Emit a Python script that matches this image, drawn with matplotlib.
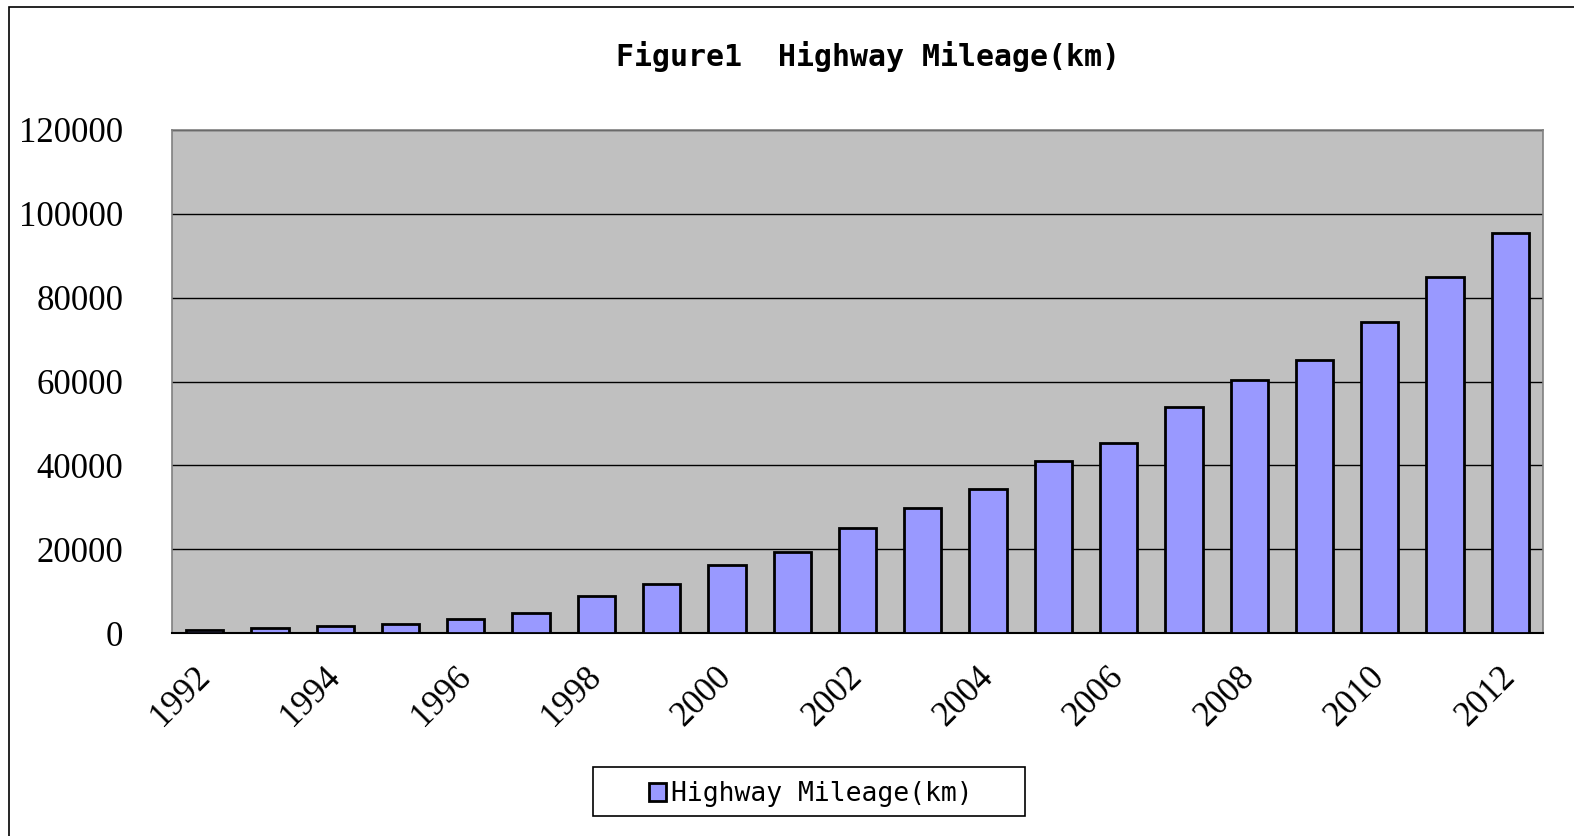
import matplotlib
matplotlib.use("Agg")
import matplotlib.pyplot as plt
from matplotlib.patches import Rectangle
import numpy as np

# Highway mileage (km)
years = [str(y) for y in range(1992, 2013)]
mileage = [600, 1145, 1603, 2141, 3422, 4771, 8733, 11605, 16314, 19437,
           25130, 29745, 34288, 41005, 45339, 53913, 60302, 65055, 74113,
           84946, 95500]
yticks = [0, 20000, 40000, 60000, 80000, 100000, 120000]
tick_years = years[::2]

serif = "Liberation Serif"
mono = "DejaVu Sans Mono"
W, H = 1574, 836

fig = plt.figure(figsize=(W / 100, H / 100), dpi=100)
ax = fig.add_axes([172 / W, 1 - 633 / H, (1543 - 172) / W, (633 - 130) / H])

# outer chart frame (right/bottom sides fall outside the picture)
fig.patches.append(Rectangle((9 / W, -0.05), 1.2, 1 - 7 / H + 0.05,
                             transform=fig.transFigure, fill=False,
                             edgecolor="black", linewidth=1.2))

x = np.arange(len(years))
ax.set_facecolor("#C0C0C0")
ax.bar(x, mileage, width=0.57, color="#9999FF", edgecolor="black",
       linewidth=2.0, label="Highway Mileage(km)", zorder=3)

ax.set_xlim(-0.5, len(years) - 0.5)
ax.set_ylim(0, 120000)
ax.set_yticks(yticks)
ax.set_yticklabels([str(v) for v in yticks], fontfamily=serif, fontsize=25)
ax.yaxis.grid(True, color="black", linewidth=1.0, zorder=1)
ax.set_axisbelow(True)

ax.set_xticks(x[::2])
ax.set_xticklabels(tick_years, fontfamily=serif, fontsize=25, rotation=45,
                   ha="right", va="center", rotation_mode="anchor")
ax.tick_params(axis="both", length=0)
ax.tick_params(axis="x", pad=28)
ax.tick_params(axis="y", pad=35)

for side in ["left", "top", "right"]:
    ax.spines[side].set_color("#808080")
    ax.spines[side].set_linewidth(1.2)
ax.spines["bottom"].set_color("black")
ax.spines["bottom"].set_linewidth(1.5)

fig.text(868 / W, 1 - 56 / H, "Figure1  Highway Mileage(km)",
         fontfamily=mono, fontweight="bold", fontsize=21.5,
         ha="center", va="center")

# legend box is wider than matplotlib's padding allows, so draw it by hand
fig.patches.append(Rectangle((593 / W, 1 - 816 / H), (1025 - 593) / W, 49 / H,
                             transform=fig.transFigure, fill=False,
                             edgecolor="black", linewidth=1.2))
leg = ax.legend(loc="center", bbox_to_anchor=(811 / W, 1 - 794 / H),
                bbox_transform=fig.transFigure, prop={"family": mono, "size": 19},
                frameon=False, handlelength=0.65, handleheight=0.65,
                handletextpad=0.2, borderpad=0, borderaxespad=0)

fig.savefig("out.png", dpi=100, facecolor="white")
